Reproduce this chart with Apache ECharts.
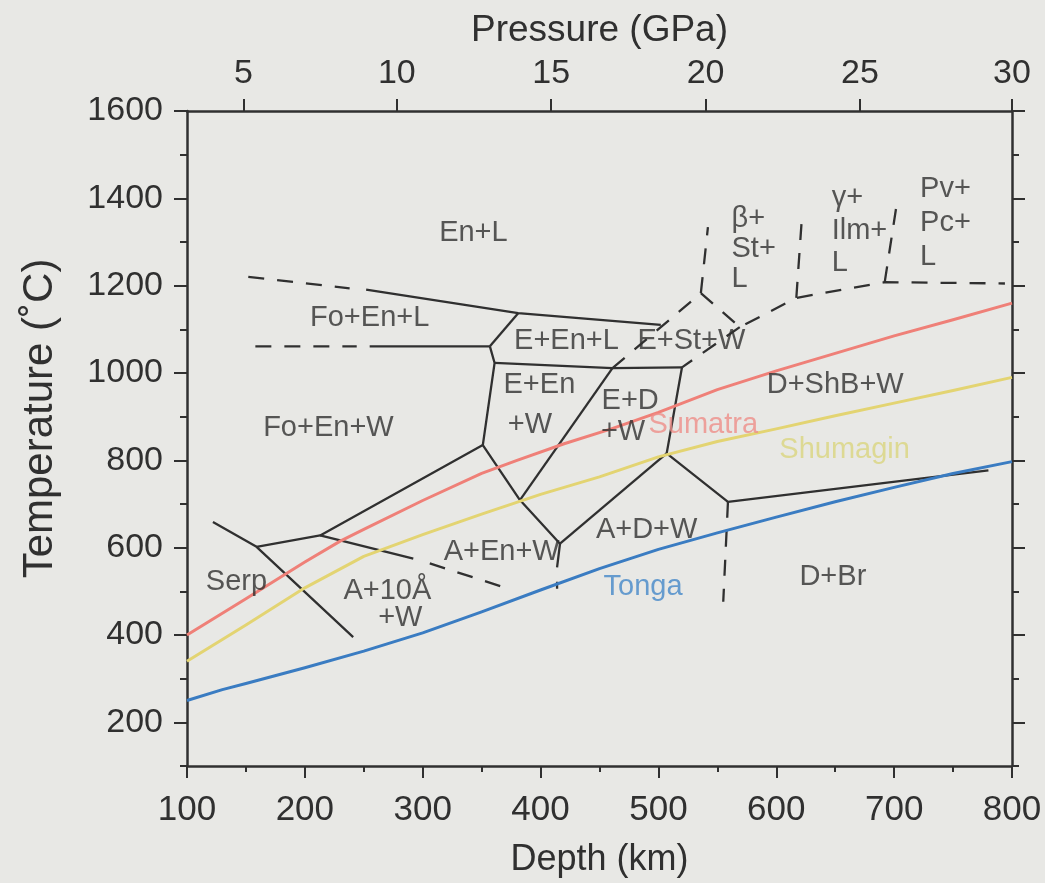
<!DOCTYPE html>
<html>
<head>
<meta charset="utf-8">
<script src="https://cdn.jsdelivr.net/npm/echarts@6/dist/echarts.min.js"></script>
<style>
  html, body { margin: 0; padding: 0; background: #e8e8e5; }
  #chart { width: 1045px; height: 883px; }
</style>
</head>
<body>
<div id="chart"></div>
<script>
// Slab-surface geotherms: [depth (km), temperature (°C)]
const sumatra = [[100,400],[150,483],[200,567],[230,615],[250,642],[300,708],[350,770],[380,800],[420,838],[460,872],[500,910],[550,962],[600,1005],[650,1045],[700,1085],[750,1122],[800,1160]];
const shumagin = [[100,340],[150,423],[200,508],[250,580],[300,630],[350,677],[400,722],[450,762],[500,808],[550,843],[600,872],[650,902],[700,931],[750,960],[800,990]];
const tonga = [[100,250],[130,275],[150,289],[200,325],[250,363],[300,405],[350,453],[400,503],[450,552],[500,596],[550,634],[600,670],[650,705],[700,738],[750,770],[800,797]];

// Phase boundaries drawn as solid lines
const solidBoundaries = [
  [[252,1191],[381,1137],[502,1110]],
  [[255,1061],[357,1061]],
  [[357,1061],[381,1137]],
  [[357,1061],[361,1023],[351,835]],
  [[361,1023],[461,1011],[520,1013]],
  [[520,1013],[507,816],[559,705],[780,777]],
  [[507,816],[416.5,609]],
  [[461,1011],[382.5,709]],
  [[351,835],[382.5,709],[416.5,609]],
  [[351,835],[213,628],[159,602]],
  [[122,659],[159,602],[241,395]],
  [[213,628],[292,575]],
  [[416.5,609],[414,555]]
];

// Phase boundaries drawn as dashed lines (less certain)
const dashedBoundaries = [
  [[152,1220],[238,1194]],
  [[158,1061],[244,1061]],
  [[306,564],[368,510]],
  [[461,1011],[536,1183],[542,1334]],
  [[536,1183],[569,1105],[617,1172],[692,1208],[794,1205]],
  [[617,1172],[622,1366]],
  [[692,1208],[703,1401]],
  [[569,1105],[520,1013]],
  [[559,705],[555,476]],
  [[414,522],[414,506]]
];

// Pressure scale along the top: depth (km) of each pressure tick, and its label (GPa)
const pressureDepths = [148, 278, 409, 540, 671, 800];
const pressureLabels = ['5', '10', '15', '20', '25', '30'];

// Temperature ticks
const tempMajor = [200, 400, 600, 800, 1000, 1200, 1400, 1600];
const tempMinor = [100, 300, 500, 700, 900, 1100, 1300, 1500];

// Stability-field labels: [depth, temperature, text, alignment]
const fieldLabels = [
  [343, 1320, 'En+L', 'center'],
  [255, 1126, 'Fo+En+L', 'center'],
  [220, 874, 'Fo+En+W', 'center'],
  [422, 1073, 'E+En+L', 'center'],
  [528, 1073, 'E+St+W', 'center'],
  [399, 972, 'E+En', 'center'],
  [391, 880, '+W', 'center'],
  [476, 936, 'E+D', 'center'],
  [470, 865, '+W', 'center'],
  [650, 972, 'D+ShB+W', 'center'],
  [562, 1352, 'β+', 'left'],
  [562, 1284, 'St+', 'left'],
  [562, 1215, 'L', 'left'],
  [647, 1400, 'γ+', 'left'],
  [647, 1325, 'Ilm+', 'left'],
  [647, 1252, 'L', 'left'],
  [722, 1421, 'Pv+', 'left'],
  [722, 1343, 'Pc+', 'left'],
  [722, 1266, 'L', 'left'],
  [367, 590, 'A+En+W', 'center'],
  [270, 500, 'A+10Å', 'center'],
  [281, 440, '+W', 'center'],
  [142, 521, 'Serp', 'center'],
  [490, 640, 'A+D+W', 'center'],
  [648, 532, 'D+Br', 'center']
];

// Geotherm names, placed beside each curve
const curveLabels = [
  [538, 880, 'Sumatra'],
  [658, 823, 'Shumagin'],
  [487, 509, 'Tonga']
];

const INK = '#303030';
const FONT = '"Liberation Sans", Arial, Helvetica, sans-serif';
const curveColors = { Sumatra: '#ef8078', Shumagin: '#e3d472', Tonga: '#3a7cc2' };
const curveTextColors = { Sumatra: '#ee8d88', Shumagin: '#d9d47e', Tonga: '#4487c8' };

const series = [];

solidBoundaries.forEach(pts => series.push({
  type: 'line', data: pts, symbol: 'none', silent: true, z: 3,
  lineStyle: { color: INK, width: 2.3 }
}));
dashedBoundaries.forEach(pts => series.push({
  type: 'line', data: pts, symbol: 'none', silent: true, z: 3,
  lineStyle: { color: INK, width: 2.3, type: [16, 13] }
}));

[['Sumatra', sumatra], ['Shumagin', shumagin], ['Tonga', tonga]].forEach(([name, pts]) => series.push({
  type: 'line', name, data: pts, symbol: 'none', silent: true, z: 4,
  smooth: false,
  lineStyle: { color: curveColors[name], width: 3, join: 'round' }
}));

series.push({
  type: 'scatter', silent: true, z: 6, symbolSize: 0,
  data: fieldLabels.map(l => ({ value: [l[0], l[1]], text: l[2],
    label: { align: l[3] } })),
  label: {
    show: true, position: [0, 0], verticalAlign: 'middle',
    formatter: p => p.data.text,
    fontFamily: FONT, fontSize: 29, color: INK
  }
});

series.push({
  type: 'scatter', silent: true, z: 6, symbolSize: 0,
  data: curveLabels.map(l => ({ value: [l[0], l[1]], text: l[2],
    label: { color: curveTextColors[l[2]] } })),
  label: {
    show: true, position: [0, 0], align: 'center', verticalAlign: 'middle',
    formatter: p => p.data.text,
    fontFamily: FONT, fontSize: 29
  }
});

const axisLine = { show: true, onZero: false, lineStyle: { color: INK, width: 2.5 } };
const labelStyle = { fontFamily: FONT, fontSize: 34, color: INK };
const nameStyle = { fontFamily: FONT, fontSize: 36, color: INK };

const option = {
  animation: false,
  backgroundColor: '#e8e8e5',
  grid: { left: 187, right: 33, top: 111, bottom: 117, containLabel: false },
  xAxis: [
    {
      type: 'value', position: 'bottom', min: 100, max: 800, interval: 100,
      axisLine,
      axisTick: { show: true, inside: false, length: 12, lineStyle: { color: INK, width: 2 } },
      minorTick: { show: true, splitNumber: 2, length: 6, lineStyle: { color: INK, width: 2 } },
      axisLabel: { ...labelStyle, fontSize: 35, margin: 27 },
      splitLine: { show: false },
      name: 'Depth (km)', nameLocation: 'middle', nameGap: 76, nameTextStyle: nameStyle
    },
    {
      type: 'value', position: 'top', min: 100, max: 800,
      axisLine,
      axisTick: { show: true, inside: false, length: 12, customValues: pressureDepths,
        lineStyle: { color: INK, width: 2 } },
      axisLabel: { ...labelStyle, margin: 20, customValues: pressureDepths,
        formatter: v => pressureLabels[pressureDepths.indexOf(v)] ?? '' },
      splitLine: { show: false },
      name: 'Pressure (GPa)', nameLocation: 'middle', nameGap: 62,
      nameTextStyle: { ...nameStyle, fontSize: 37 }
    }
  ],
  yAxis: [
    {
      type: 'value', position: 'left', min: 100, max: 1600,
      axisLine,
      axisTick: { show: true, inside: false, length: 13, customValues: tempMajor,
        lineStyle: { color: INK, width: 2 } },
      axisLabel: { ...labelStyle, margin: 24, customValues: tempMajor,
        formatter: v => String(v) },
      splitLine: { show: false },
      name: 'Temperature (˚C)', nameLocation: 'middle', nameGap: 126,
      nameTextStyle: { ...nameStyle, fontSize: 42, padding: [0, 0, 0, 40] }
    },
    {
      type: 'value', position: 'right', min: 100, max: 1600,
      axisLine,
      axisTick: { show: true, inside: false, length: 13, customValues: tempMajor,
        lineStyle: { color: INK, width: 2 } },
      axisLabel: { show: false },
      splitLine: { show: false }
    },
    {
      type: 'value', position: 'left', min: 100, max: 1600,
      axisLine: { show: false },
      axisTick: { show: true, inside: false, length: 7, customValues: tempMinor,
        lineStyle: { color: INK, width: 2 } },
      axisLabel: { show: false },
      splitLine: { show: false }
    },
    {
      type: 'value', position: 'right', min: 100, max: 1600,
      axisLine: { show: false },
      axisTick: { show: true, inside: false, length: 7, customValues: tempMinor,
        lineStyle: { color: INK, width: 2 } },
      axisLabel: { show: false },
      splitLine: { show: false }
    }
  ],
  series
};

const chart = echarts.init(document.getElementById('chart'), null, { renderer: 'canvas' });
chart.setOption(option);
</script>
</body>
</html>
